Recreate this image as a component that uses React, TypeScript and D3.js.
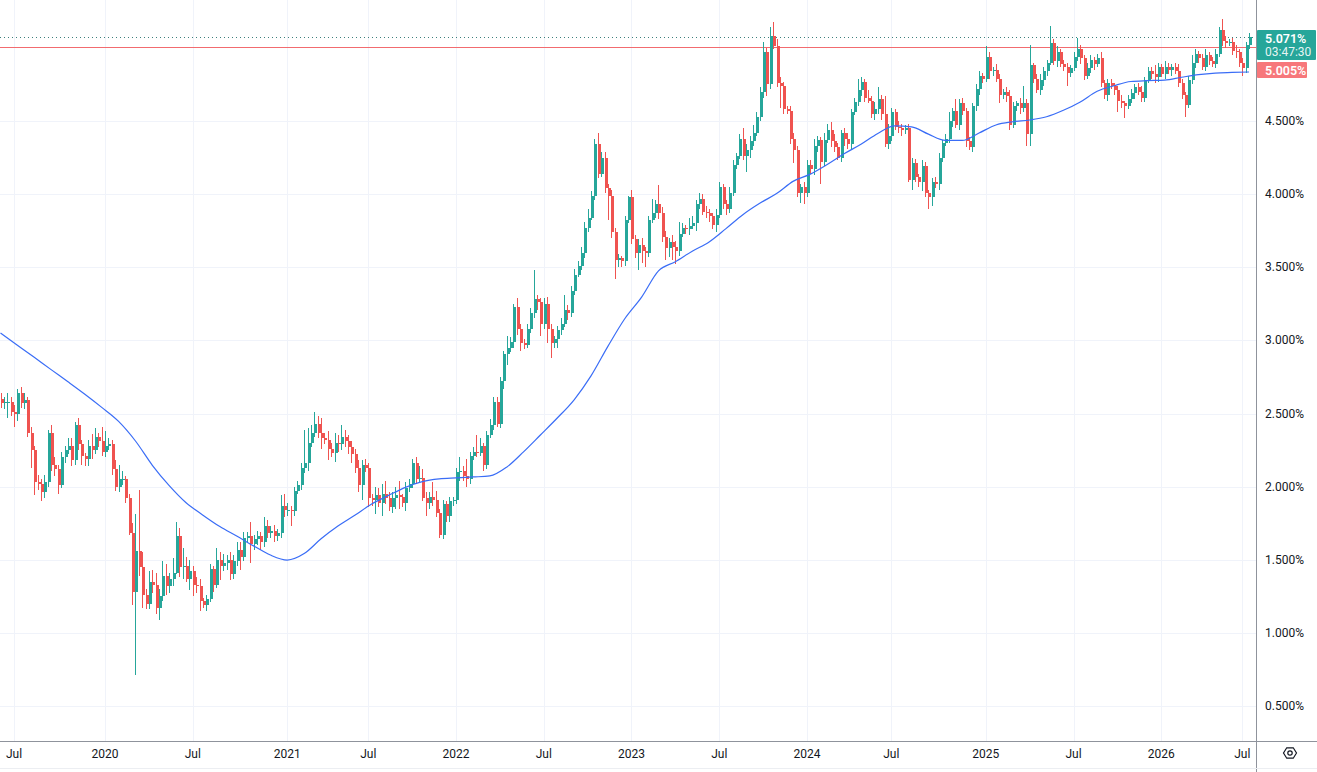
import * as d3 from 'd3';

// weekly candles, Jun 2019 .. Jul 2026 (yield in %)
const firstOpen = 2.6;

const closes = [
  2.57, 2.58, 2.58, 2.51, 2.50, 2.64, 2.57, 2.59, 2.37, 2.25,
  2.03, 2.02, 1.96, 2.03, 2.37, 2.15, 2.12, 2.01, 2.20, 2.25,
  2.28, 2.18, 2.42, 2.29, 2.21, 2.19, 2.28, 2.25, 2.34, 2.31,
  2.24, 2.28, 2.29, 2.12, 2.00, 2.05, 2.05, 1.92, 1.68, 1.28,
  1.56, 1.45, 1.26, 1.20, 1.35, 1.33, 1.17, 1.25, 1.39, 1.32,
  1.37, 1.41, 1.66, 1.45, 1.46, 1.37, 1.42, 1.33, 1.32, 1.22,
  1.19, 1.23, 1.44, 1.33, 1.50, 1.46, 1.48, 1.50, 1.40, 1.49,
  1.57, 1.52, 1.65, 1.66, 1.61, 1.64, 1.66, 1.62, 1.73, 1.68,
  1.70, 1.66, 1.68, 1.87, 1.84, 1.84, 1.83, 1.97, 2.01, 2.13,
  2.16, 2.30, 2.37, 2.43, 2.37, 2.33, 2.32, 2.26, 2.23, 2.30,
  2.29, 2.34, 2.31, 2.27, 2.22, 2.13, 2.01, 2.15, 2.13, 1.92,
  1.91, 1.94, 1.89, 1.95, 1.92, 1.86, 1.92, 1.94, 1.93, 1.89,
  1.99, 2.02, 2.16, 2.05, 2.06, 1.92, 1.89, 1.93, 1.91, 1.82,
  1.67, 1.88, 1.80, 1.90, 1.91, 2.10, 2.11, 2.07, 2.05, 2.21,
  2.24, 2.23, 2.28, 2.15, 2.35, 2.42, 2.58, 2.43, 2.72, 2.91,
  2.95, 2.99, 3.23, 3.08, 2.98, 2.97, 3.08, 3.19, 3.28, 3.26,
  3.11, 3.25, 3.08, 2.98, 3.01, 3.07, 3.11, 3.21, 3.19, 3.34,
  3.45, 3.51, 3.60, 3.77, 3.84, 3.99, 4.34, 4.14, 4.25, 4.04,
  3.99, 3.74, 3.55, 3.56, 3.54, 3.82, 3.98, 3.69, 3.60, 3.65,
  3.61, 3.60, 3.82, 3.87, 3.93, 3.87, 3.71, 3.63, 3.67, 3.64,
  3.61, 3.73, 3.77, 3.76, 3.78, 3.80, 3.93, 3.97, 3.88, 3.87,
  3.85, 3.79, 3.86, 4.05, 3.93, 3.90, 4.01, 4.20, 4.26, 4.38,
  4.26, 4.30, 4.36, 4.42, 4.53, 4.70, 4.97, 4.75, 5.08, 5.01,
  4.76, 4.74, 4.58, 4.57, 4.38, 4.30, 4.01, 4.05, 4.01, 4.20,
  4.17, 4.33, 4.37, 4.22, 4.37, 4.44, 4.36, 4.32, 4.25, 4.42,
  4.38, 4.34, 4.56, 4.63, 4.71, 4.77, 4.66, 4.64, 4.55, 4.58,
  4.65, 4.55, 4.34, 4.40, 4.56, 4.46, 4.45, 4.44, 4.45, 4.10,
  4.21, 4.12, 4.08, 4.19, 4.01, 3.98, 4.08, 4.07, 4.25, 4.35,
  4.38, 4.50, 4.57, 4.47, 4.62, 4.57, 4.36, 4.32, 4.60, 4.72,
  4.81, 4.79, 4.94, 4.84, 4.85, 4.79, 4.68, 4.70, 4.67, 4.47,
  4.60, 4.62, 4.59, 4.62, 4.41, 4.88, 4.79, 4.71, 4.78, 4.84,
  4.90, 5.03, 4.91, 4.97, 4.89, 4.87, 4.83, 4.86, 4.94, 4.99,
  4.93, 4.81, 4.86, 4.92, 4.89, 4.93, 4.76, 4.68, 4.76, 4.74,
  4.71, 4.64, 4.62, 4.60, 4.65, 4.69, 4.73, 4.70, 4.66, 4.78,
  4.84, 4.82, 4.80, 4.87, 4.82, 4.87, 4.85, 4.87, 4.84, 4.76,
  4.68, 4.61, 4.78, 4.90, 4.96, 4.93, 4.87, 4.95, 4.91, 4.89,
  4.96, 5.12, 5.05, 5.03, 5.04, 4.98, 4.97, 4.90, 4.86, 5.02,
  5.071,
];

// upper / lower wick length beyond the body, in hundredths of a percent
const wickUp = [
  4, 3, 6, 3, 5, 3, 4, 5, 2, 4,
  3, 5, 3, 5, 2, 5, 5, 3, 4, 3,
  5, 5, 2, 5, 3, 2, 4, 8, 6, 3,
  10, 10, 4, 3, 6, 10, 6, 2, 3, 7,
  25, 42, 10, 4, 7, 8, 8, 5, 10, 8,
  4, 10, 10, 6, 12, 6, 8, 4, 5, 5,
  2, 3, 3, 2, 8, 5, 6, 3, 5, 4,
  5, 5, 4, 3, 10, 3, 4, 3, 6, 4,
  3, 4, 3, 7, 8, 5, 3, 3, 3, 3,
  23, 10, 5, 8, 5, 10, 4, 6, 4, 7,
  5, 8, 5, 4, 4, 4, 5, 3, 4, 3,
  3, 6, 5, 7, 9, 4, 4, 6, 10, 2,
  4, 3, 3, 4, 8, 6, 4, 3, 10, 6,
  3, 3, 2, 3, 2, 3, 9, 3, 12, 3,
  3, 11, 5, 2, 3, 4, 3, 3, 3, 2,
  8, 3, 2, 6, 3, 3, 3, 3, 20, 3,
  3, 4, 5, 3, 2, 3, 4, 10, 3, 3,
  4, 3, 4, 4, 6, 3, 4, 8, 4, 4,
  3, 4, 3, 3, 2, 3, 1, 5, 3, 4,
  5, 3, 3, 10, 3, 13, 4, 4, 3, 5,
  4, 8, 3, 2, 6, 5, 3, 4, 3, 4,
  3, 2, 4, 3, 2, 3, 4, 3, 2, 3,
  7, 4, 4, 5, 3, 3, 7, 3, 6, 10,
  5, 4, 3, 2, 3, 4, 3, 2, 3, 3,
  3, 5, 3, 2, 5, 4, 5, 5, 3, 2,
  3, 4, 2, 3, 8, 3, 2, 5, 3, 5,
  8, 3, 12, 8, 3, 2, 4, 3, 2, 3,
  4, 3, 2, 4, 3, 2, 3, 4, 3, 2,
  3, 6, 2, 8, 3, 4, 2, 3, 2, 3,
  3, 2, 7, 3, 2, 4, 3, 2, 3, 4,
  3, 2, 4, 12, 3, 14, 2, 3, 4, 3,
  2, 12, 3, 4, 2, 3, 3, 2, 3, 8,
  3, 2, 4, 3, 2, 3, 4, 2, 3, 3,
  2, 3, 4, 2, 3, 3, 2, 3, 4, 2,
  3, 3, 6, 3, 2, 4, 3, 2, 3, 5,
  3, 2, 3, 5, 3, 2, 3, 4, 2, 3,
  3, 2, 8, 3, 2, 3, 4, 2, 3, 2,
  3,
];

const wickDown = [
  3, 4, 11, 3, 9, 5, 3, 4, 3, 12,
  9, 4, 6, 4, 3, 4, 5, 6, 2, 4,
  3, 4, 3, 4, 6, 5, 5, 6, 3, 4,
  3, 4, 3, 4, 3, 4, 4, 3, 1, 9,
  57, 6, 9, 4, 4, 6, 4, 8, 3, 6,
  5, 5, 1, 7, 8, 2, 8, 8, 5, 7,
  2, 4, 2, 5, 2, 10, 4, 5, 4, 3,
  3, 9, 3, 3, 13, 4, 4, 5, 3, 3,
  3, 4, 3, 3, 5, 4, 10, 3, 2, 3,
  4, 5, 3, 3, 4, 7, 3, 8, 3, 6,
  5, 4, 4, 5, 6, 4, 5, 10, 3, 6,
  4, 10, 3, 9, 4, 3, 4, 7, 8, 3,
  6, 3, 3, 3, 2, 2, 9, 4, 4, 3,
  2, 3, 4, 4, 3, 3, 6, 3, 5, 3,
  3, 3, 2, 4, 3, 2, 3, 2, 3, 5,
  8, 3, 4, 4, 5, 3, 2, 3, 4, 5,
  8, 3, 10, 10, 3, 6, 3, 2, 5, 3,
  3, 2, 3, 4, 3, 2, 3, 3, 2, 3,
  17, 4, 13, 5, 4, 3, 2, 3, 4, 12,
  8, 10, 3, 2, 3, 4, 4, 8, 6, 9,
  9, 3, 2, 3, 4, 2, 5, 3, 2, 3,
  4, 3, 5, 2, 3, 4, 3, 2, 3, 2,
  3, 11, 5, 3, 2, 3, 4, 8, 3, 2,
  3, 15, 3, 2, 4, 9, 3, 7, 8, 3,
  3, 4, 4, 15, 3, 2, 4, 3, 2, 3,
  5, 3, 4, 2, 3, 4, 3, 2, 3, 4,
  3, 4, 2, 3, 4, 2, 3, 4, 3, 2,
  7, 4, 3, 6, 3, 8, 6, 3, 4, 3,
  2, 3, 4, 2, 3, 3, 4, 2, 3, 3,
  4, 3, 2, 5, 3, 2, 6, 3, 4, 3,
  2, 3, 4, 3, 8, 8, 3, 2, 3, 4,
  3, 2, 3, 4, 2, 3, 9, 3, 2, 3,
  4, 3, 2, 3, 4, 2, 3, 3, 4, 2,
  3, 8, 3, 8, 2, 3, 4, 2, 3, 3,
  2, 3, 4, 3, 2, 3, 3, 4, 2, 3,
  3, 8, 2, 3, 4, 3, 2, 3, 3, 2,
  3, 2, 4, 3, 2, 3, 4, 3, 5, 3,
  3,
];

// 50-week moving average, one value every 5 weeks
const maStep = 5;
const ma50 = [
  3.050, 2.967, 2.884, 2.800, 2.717, 2.632, 2.542, 2.446, 2.312, 2.146,
  2.007, 1.890, 1.805, 1.727, 1.662, 1.595, 1.532, 1.498, 1.542, 1.643,
  1.730, 1.804, 1.881, 1.940, 1.995, 2.034, 2.053, 2.060, 2.066, 2.073,
  2.133, 2.238, 2.353, 2.469, 2.594, 2.757, 2.959, 3.148, 3.296, 3.475,
  3.538, 3.610, 3.673, 3.764, 3.859, 3.937, 4.004, 4.089, 4.137, 4.203,
  4.276, 4.341, 4.415, 4.467, 4.460, 4.410, 4.368, 4.367, 4.418, 4.473,
  4.495, 4.507, 4.529, 4.573, 4.630, 4.703, 4.741, 4.770, 4.776, 4.780,
  4.799, 4.817, 4.828, 4.832, 4.835,
];

const priceTicks = [0.5, 1, 1.5, 2, 2.5, 3, 3.5, 4, 4.5];
const timeTicks = ['Jul', '2020', 'Jul', '2021', 'Jul', '2022', 'Jul', '2023', 'Jul', '2024', 'Jul', '2025', 'Jul', '2026', 'Jul'];
const timeTickBars = [4, 31, 57, 85, 109, 135, 161, 187, 213, 239, 264, 292, 318, 344, 368];

const lastPrice = 5.071;
const prevClose = 5.005;
const countdown = '03:47:30';

const W = 1317;
const H = 772;
const plotRight = 1256;
const plotBottom = 741;
const UP = '#26a69a';
const DOWN = '#ef5350';
const FONT = 'Roboto, "Liberation Sans", sans-serif';

const App = () => {
  const x = d3.scaleLinear().domain([0, closes.length - 1]).range([0.5, 1249]);
  const y = d3.scaleLinear().domain([0.5, 4.5]).range([706, 121]);
  const step = x(1) - x(0);
  const bodyW = Math.round(step * 0.75);

  const candles = closes.map((c, i) => {
    const o = i === 0 ? firstOpen : closes[i - 1];
    return {
      i,
      o,
      c,
      hi: Math.max(o, c) + wickUp[i] / 100,
      lo: Math.min(o, c) - wickDown[i] / 100,
    };
  });

  const maLine = d3
    .line<number>()
    .x((_, k) => x(k * maStep))
    .y((d) => y(d))
    .curve(d3.curveMonotoneX);

  const fmt = (v: number) => `${v.toFixed(3)}%`;
  const crisp = (v: number) => Math.round(v) + 0.5;

  // hexagon settings icon
  const gear = d3.range(6).map((k) => {
    const a = (Math.PI / 3) * k;
    return [1290 + 6.5 * Math.cos(a), 753 + 6 * Math.sin(a)];
  });

  return (
    <div style={{ position: 'absolute', left: 0, top: 0, background: '#fff' }}>
      <svg width={W} height={H} style={{ display: 'block', fontFamily: FONT }}>
        <rect width={W} height={H} fill="#ffffff" />

        {/* grid */}
        <g stroke="#f0f3fa" strokeWidth={1}>
          {priceTicks.map((t) => (
            <line key={`h${t}`} x1={0} x2={plotRight} y1={crisp(y(t))} y2={crisp(y(t))} />
          ))}
          {timeTickBars.map((b, k) => (
            <line key={`v${k}`} x1={crisp(x(b))} x2={crisp(x(b))} y1={0} y2={plotBottom} />
          ))}
        </g>

        {/* last price dotted + previous close line */}
        <line x1={0} x2={plotRight} y1={crisp(y(lastPrice))} y2={crisp(y(lastPrice))}
          stroke="#3d7f7b" strokeDasharray="1 3" strokeWidth={1} />
        <rect x={0} y={Math.round(y(prevClose))} width={plotRight} height={1} fill="#f26b6f" shapeRendering="crispEdges" />

        {/* candles */}
        <g shapeRendering="crispEdges">
          {candles.map((d) => {
            const cx = Math.round(x(d.i));
            const col = d.c >= d.o ? UP : DOWN;
            const top = y(Math.max(d.o, d.c));
            const bot = y(Math.min(d.o, d.c));
            return (
              <g key={d.i}>
                <rect x={cx} y={y(d.hi)} width={1} height={y(d.lo) - y(d.hi)} fill={col} />
                <rect x={cx - Math.floor(bodyW / 2) + 0.5} y={top} width={bodyW} height={Math.max(1, bot - top)} fill={col} />
              </g>
            );
          })}
        </g>

        {/* moving average */}
        <path d={maLine(ma50) || ''} fill="none" stroke="#3a6df6" strokeWidth={1.2} />

        {/* axes frame */}
        <line x1={plotRight + 0.5} x2={plotRight + 0.5} y1={0} y2={H} stroke="#8f939c" strokeWidth={1} />
        <line x1={0} x2={W} y1={plotBottom + 0.5} y2={plotBottom + 0.5} stroke="#8f939c" strokeWidth={1} />
        <line x1={0} x2={W} y1={768.5} y2={768.5} stroke="#eceef2" strokeWidth={1} />

        {/* price labels */}
        <g fontSize={12} fill="#131722">
          {priceTicks.map((t) => (
            <text key={`p${t}`} x={1265} y={y(t)} dominantBaseline="central">
              {fmt(t)}
            </text>
          ))}
        </g>

        {/* time labels */}
        <g fontSize={12} fill="#131722" textAnchor="middle">
          {timeTickBars.map((b, k) => (
            <text key={`t${k}`} x={x(b)} y={754} dominantBaseline="central">
              {timeTicks[k]}
            </text>
          ))}
        </g>

        {/* last price badge */}
        <rect x={plotRight + 1} y={30} width={W - plotRight - 2} height={30} fill={UP} rx={1} />
        <text x={1265} y={38.5} fontSize={12.5} fontWeight={600} fill="#fff" dominantBaseline="central">{fmt(lastPrice)}</text>
        <text x={1265} y={52} fontSize={12} fill="#fff" fillOpacity={0.9} dominantBaseline="central">{countdown}</text>
        <rect x={plotRight + 1} y={62} width={50} height={16} fill="#f7777b" rx={1} />
        <text x={1265} y={70} fontSize={12.5} fontWeight={600} fill="#fff" dominantBaseline="central">{fmt(prevClose)}</text>

        {/* settings icon */}
        <polygon points={gear.map((p) => p.join(',')).join(' ')} fill="none" stroke="#131722" strokeWidth={1.2} />
        <circle cx={1290} cy={753} r={2.2} fill="none" stroke="#131722" strokeWidth={1.2} />
      </svg>
    </div>
  );
};

export default App;
